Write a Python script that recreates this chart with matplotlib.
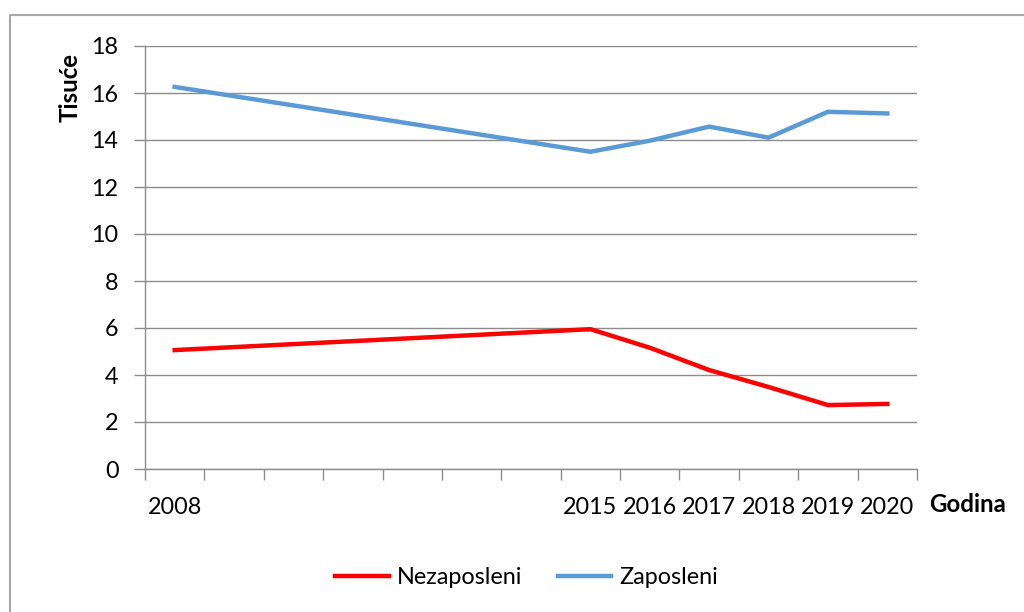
import numpy as np
import matplotlib
matplotlib.use("Agg")
import matplotlib.pyplot as plt
from matplotlib.lines import Line2D

# Data (thousands)
years = [2008, 2015, 2016, 2017, 2018, 2019, 2020]
nezaposleni = [5.06, 5.95, 5.16, 4.21, 3.49, 2.72, 2.77]
zaposleni = [16.26, 13.50, 13.97, 14.57, 14.10, 15.20, 15.13]

plt.rcParams['font.family'] = ['Lato', 'DejaVu Sans']
FS = 16.8

fig = plt.figure(figsize=(10.24, 6.12), dpi=100)
ax = fig.add_axes([145 / 1024, 1 - 469 / 612, (917 - 145) / 1024, (469 - 46) / 612])

ax.plot(years, nezaposleni, color='#FF0000', lw=3.2, label='Nezaposleni', solid_joinstyle='round')
ax.plot(years, zaposleni, color='#5B9BD5', lw=3.2, label='Zaposleni', solid_joinstyle='round')

grid_c = '#8C8C8C'
ax.set_ylim(0, 18)
ax.set_yticks(np.arange(0, 19, 2))
ax.yaxis.grid(True, color=grid_c, lw=1.0)
ax.set_axisbelow(True)

ax.set_xlim(2007.5, 2020.5)
ax.set_xticks(years)
ax.set_xticklabels([str(y) for y in years])
ax.set_xticks(np.arange(2007.5, 2021, 1), minor=True)
ax.tick_params(axis='x', which='major', length=0, pad=20, labelsize=FS)
ax.tick_params(axis='x', which='minor', length=8, width=1, color=grid_c, direction='out')
ax.tick_params(axis='y', length=8, width=1, color=grid_c, direction='out', pad=11, labelsize=FS)

for s in ['top', 'right']:
    ax.spines[s].set_visible(False)
for s in ['left', 'bottom']:
    ax.spines[s].set_color(grid_c)
    ax.spines[s].set_linewidth(1.0)

fig.text(929 / 1024, 1 - 505 / 612, 'Godina', fontsize=FS + 0.5, fontweight='bold', va='center', ha='left')
fig.text(70 / 1024, 1 - 88 / 612, 'Tisuće', fontsize=FS + 0.5, fontweight='bold', rotation=90,
         va='center', ha='center')

fig.legend(loc='center', bbox_to_anchor=(527 / 1024, 1 - 578 / 612), ncol=2, frameon=False,
           fontsize=FS, handlelength=2.3, handletextpad=0.35, columnspacing=1.5)

# outer chart border
border = Line2D([10 / 1024, 10 / 1024, 1.0], [0.0, 1 - 15 / 612, 1 - 15 / 612],
                transform=fig.transFigure, color='#A6A6A6', lw=1.5)
fig.add_artist(border)

fig.savefig('out.png', dpi=100, facecolor='white')
